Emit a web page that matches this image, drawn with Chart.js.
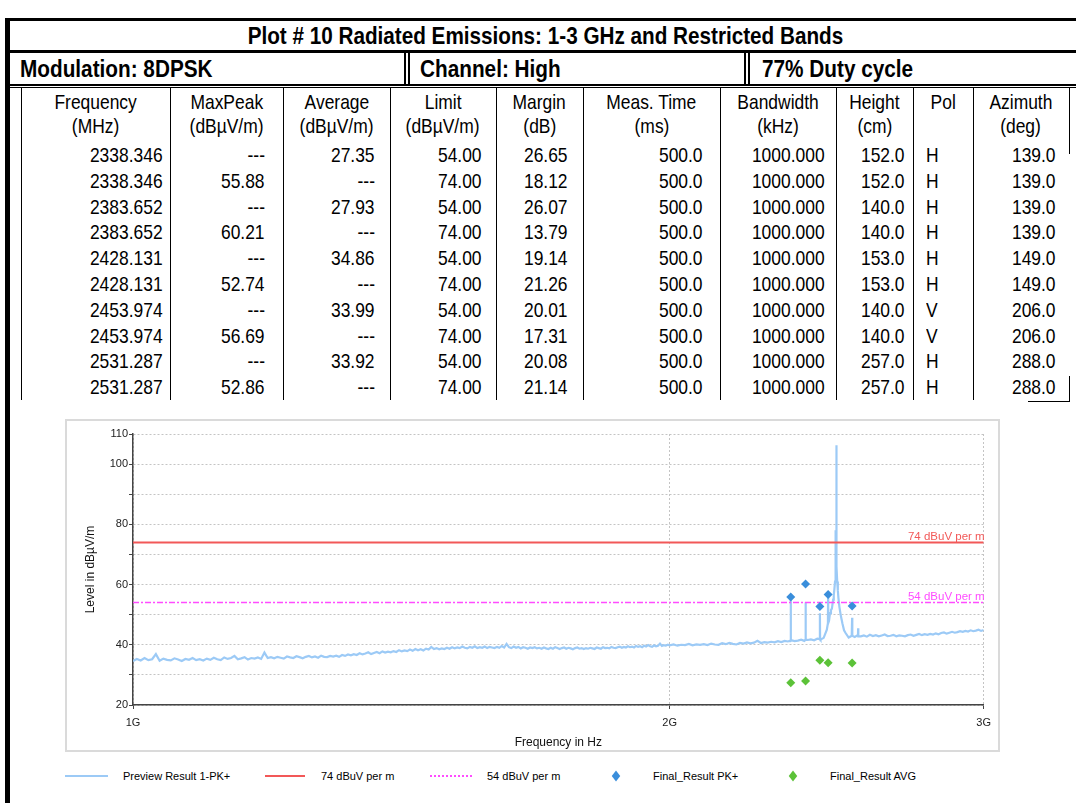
<!DOCTYPE html>
<html>
<head>
<meta charset="utf-8">
<script src="https://cdn.jsdelivr.net/npm/chart.js@4.4.1/dist/chart.umd.min.js"></script>
<style>
  body { margin:0; background:#fff; }
  #page { position:relative; width:1076px; height:803px; overflow:hidden; font-family:"Liberation Sans", Arial, sans-serif; color:#000; }
  .ln { position:absolute; background:#000; }
  .cell { position:absolute; white-space:nowrap; box-sizing:border-box; }
  .cell span { display:inline-block; }
  #plotBox { position:absolute; left:65px; top:419px; width:931px; height:329px; border:2px solid #dadada; }
  .lg { position:absolute; font-size:11px; line-height:14px; white-space:nowrap; }
</style>
</head>
<body>
<div id="page">
  <div id="plotBox"><canvas id="line-chart" width="931" height="329"></canvas></div>
</div>
<script>
// ---- result table ----
var finalFreqs = [2338.346, 2338.346, 2383.652, 2383.652, 2428.131, 2428.131, 2453.974, 2453.974, 2531.287, 2531.287];
var maxPeak    = [null, 55.88, null, 60.21, null, 52.74, null, 56.69, null, 52.86];
var average    = [27.35, null, 27.93, null, 34.86, null, 33.99, null, 33.92, null];
var limitVals  = [54, 74, 54, 74, 54, 74, 54, 74, 54, 74];
var margins    = [26.65, 18.12, 26.07, 13.79, 19.14, 21.26, 20.01, 17.31, 20.08, 21.14];
var measTime   = [500, 500, 500, 500, 500, 500, 500, 500, 500, 500];
var bandwidths = [1000, 1000, 1000, 1000, 1000, 1000, 1000, 1000, 1000, 1000];
var heights    = [152, 152, 140, 140, 153, 153, 140, 140, 257, 257];
var pols       = ['H', 'H', 'H', 'H', 'H', 'H', 'V', 'V', 'H', 'H'];
var azimuths   = [139, 139, 139, 139, 149, 149, 206, 206, 288, 288];

var headTop    = ['Frequency', 'MaxPeak', 'Average', 'Limit', 'Margin', 'Meas. Time', 'Bandwidth', 'Height', 'Pol', 'Azimuth'];
var headBottom = ['(MHz)', '(dBµV/m)', '(dBµV/m)', '(dBµV/m)', '(dB)', '(ms)', '(kHz)', '(cm)', '', '(deg)'];

// ---- spectrum sweep (MHz / dBµV/m) ----
var lowBandStart = 1000, lowBandStep = 5;
var lowBandLevels = [
  34.6, 35.3, 34.8, 35.6, 34.9, 35.2, 36.9, 34.7, 35.4, 35.0, 34.8, 35.5, 35.1, 34.6, 35.3, 35.0, 35.6, 34.9, 35.2, 34.8,
  35.4, 35.0, 35.7, 35.2, 34.9, 35.8, 35.3, 35.6, 36.3, 35.2, 35.5, 35.9, 35.1, 35.6, 35.4, 35.8, 35.3, 37.4, 35.6, 35.9,
  35.5, 36.0, 35.7, 35.4, 36.1, 35.8, 35.6, 36.2, 35.9, 35.5, 36.0, 36.3, 35.8, 36.1, 35.7, 36.4, 36.0, 35.9, 36.3, 36.1,
  36.4, 36.0, 36.6, 36.3, 36.8, 36.5, 36.9, 36.6, 37.2, 36.8, 37.1, 37.5, 36.9, 37.3, 37.6, 37.2, 37.8, 37.4, 37.7, 37.5,
  37.9, 37.6, 38.2, 37.8, 38.1, 37.9, 38.4, 38.0, 38.6, 38.2, 38.5, 38.1, 38.7, 38.4, 39.3, 38.6, 38.9, 38.5, 38.8, 38.6,
  39.0, 38.7, 39.2, 38.8, 39.1, 38.9, 39.4, 39.0, 38.8, 39.3, 39.0, 39.5, 38.9, 39.2, 39.0, 39.4, 38.9, 39.3, 39.1, 38.9,
  39.3, 39.0, 39.6, 39.1, 40.3, 39.2, 38.9, 39.4, 39.0, 39.3, 38.8, 39.2, 39.0, 38.7, 39.1, 38.9, 39.2, 38.8, 39.0, 38.7,
  39.1, 38.8, 38.6, 39.0, 38.7, 39.2, 38.9, 38.6, 38.9, 39.1, 38.7, 39.0, 38.8, 38.5, 38.9, 39.1, 38.7, 38.9, 38.6, 38.9,
  38.7, 39.0, 38.8, 38.6, 39.1, 38.9, 38.7, 39.2, 38.9, 39.0, 38.8, 39.3, 39.0, 38.9, 39.2, 39.4, 39.0, 39.3, 39.1, 39.5,
  39.2, 39.4, 39.1, 39.6, 39.3, 39.5, 39.2, 39.7, 39.4, 39.9, 39.5, 39.3, 39.8, 39.5, 39.7, 40.4, 39.6, 39.9, 39.7, 40.0
];
var highBandStart = 2000, highBandStep = 10;
var highBandLevels = [
  39.8, 40.1, 39.7, 40.0, 39.9, 40.3, 39.8, 40.1, 40.0, 40.2,
  39.9, 40.4, 40.1, 40.0, 40.5, 40.2, 40.6, 40.3, 40.1, 40.6,
  40.4, 40.8, 40.5, 40.7, 41.3, 40.6, 40.9, 40.7, 41.0, 40.8,
  41.2, 40.9, 41.3, 41.1, 41.5, 41.2, 41.4, 41.7, 41.3, 41.6,
  41.8, 41.5, 42.0, 41.7, 42.3, 45.0, 50.5, 55.0, 106.3, 52.6,
  47.0, 43.9, 42.4, 43.0, 42.6, 43.2, 42.8, 43.1, 42.7, 43.3,
  42.9, 43.2, 42.8, 43.1, 43.4, 42.9, 43.0, 43.3, 42.8, 43.1,
  43.0, 42.8, 43.2, 43.4, 43.0, 43.3, 43.6, 43.2, 43.5, 43.3,
  43.6, 43.4, 43.8, 43.5, 43.9, 44.1, 43.7, 44.0, 44.3, 44.0,
  44.2, 44.5, 44.3, 44.6, 44.4, 44.8, 44.5, 44.7, 45.0, 44.6,
  44.9
];
// extra points around the carrier at 2480 MHz
var carrierFreqs  = [2454, 2457, 2463, 2466, 2472, 2474, 2476, 2477, 2478, 2478.6, 2479.2, 2479.6, 2480.4, 2480.8, 2481.4, 2482, 2483, 2485, 2487, 2494, 2497, 2505];
var carrierLevels = [47.5, 48.0, 51.5, 52.0, 56.5, 58.5, 61.0, 65.0, 71.0, 78.0, 74.0, 85.0, 92.0, 72.0, 76.0, 66.0, 61.0, 58.0, 55.5, 50.0, 48.5, 44.8];
// narrow spurs: top level and the floor right beside them
var spurFreqs      = [2338.346, 2383.652, 2428.131, 2453.974, 2531.287, 2551];
var spurLevels     = [55.8, 54.0, 50.5, 57.0, 49.0, 45.5];
var spurBaseLevels = [41.4, 41.6, 41.9, 47.2, 43.0, 42.8];

var limitLines  = [74, 54];
var limitNames  = ['74 dBuV per m', '54 dBuV per m'];
var limitColors = ['#f25858', '#ff4cff'];

var yLabelValues = [20, 40, 60, 80, 100, 110];
var xTickValues  = [1000, 2000, 3000];
var xTickLabels  = ['1G', '2G', '3G'];

var traceColor = '#9ccaf6';
var pkColor = '#3a8edb';
var avgColor = '#5cc238';

var page = document.getElementById('page');

function line(x, y, w, h) {
  var d = document.createElement('div');
  d.className = 'ln';
  d.style.left = x + 'px'; d.style.top = y + 'px';
  d.style.width = w + 'px'; d.style.height = h + 'px';
  page.appendChild(d);
}

function putText(txt, left, width, y, height, align, pad, font, sx) {
  var d = document.createElement('div');
  d.className = 'cell';
  d.style.left = left + 'px'; d.style.width = width + 'px';
  d.style.top = y + 'px'; d.style.height = height + 'px';
  d.style.textAlign = align;
  d.style.font = font;
  d.style.lineHeight = height + 'px';
  if (align == 'right') d.style.paddingRight = pad + 'px';
  if (align == 'left') d.style.paddingLeft = pad + 'px';
  var s = document.createElement('span');
  s.textContent = txt;
  s.style.transform = 'scaleX(' + sx + ')';
  s.style.transformOrigin = (align == 'right' ? '100%' : (align == 'left' ? '0%' : '50%')) + ' 50%';
  d.appendChild(s);
  page.appendChild(d);
}

// frame of the report
line(5, 18, 1071, 3);
line(5, 18, 5, 785);
line(5, 50, 1071, 3);
line(404, 53, 1.5, 33);
line(408, 53, 1.5, 33);
line(744, 53, 1.5, 33);
line(748, 53, 1.5, 33);
line(10, 84, 1066, 2);
line(10, 87, 1066, 1);

var boldFont = 'bold 24px "Liberation Sans", Arial, sans-serif';
var cellFont = '21px "Liberation Sans", Arial, sans-serif';
putText('Plot # 10 Radiated Emissions: 1-3 GHz and Restricted Bands', 14, 1062, 21, 29, 'center', 0, boldFont, 0.862);
putText('Modulation: 8DPSK', 20, 380, 53, 32, 'left', 0, boldFont, 0.865);
putText('Channel: High', 420, 320, 53, 32, 'left', 0, boldFont, 0.865);
putText('77% Duty cycle', 762, 310, 53, 32, 'left', 0, boldFont, 0.865);

var colEdges = [21, 170, 283, 390, 496, 583, 720, 836, 913, 973, 1069];
var colPad   = [7, 18, 15, 14, 15, 17, 11, 8, 13, 13];

for (var c = 0; c < colEdges.length - 1; c++) {
  line(colEdges[c], 88, 1, 312);
}
line(1069, 88, 1, 66);
line(1069, 376, 1, 26);
line(1028, 401, 42, 1);

for (var c = 0; c < headTop.length; c++) {
  var L = colEdges[c], W = colEdges[c + 1] - colEdges[c];
  putText(headTop[c], L, W, 90, 24, 'center', 0, cellFont, 0.83);
  if (headBottom[c]) putText(headBottom[c], L, W, 114, 24, 'center', 0, cellFont, 0.83);
}

function fmt(v, d) { return v == null ? '---' : v.toFixed(d); }

for (var r = 0; r < finalFreqs.length; r++) {
  var vals = [
    fmt(finalFreqs[r], 3), fmt(maxPeak[r], 2), fmt(average[r], 2), fmt(limitVals[r], 2), fmt(margins[r], 2),
    fmt(measTime[r], 1), fmt(bandwidths[r], 3), fmt(heights[r], 1), pols[r], fmt(azimuths[r], 1)
  ];
  var rowTop = 142 + r * 25.8;
  for (var c = 0; c < vals.length; c++) {
    var L = colEdges[c], W = colEdges[c + 1] - colEdges[c];
    putText(vals[c], L, W, rowTop, 26, c == 8 ? 'left' : 'right', colPad[c], cellFont, 0.83);
  }
}

// ---- chart ----
var trace = [];
lowBandLevels.forEach(function (v, i) { trace.push({x: lowBandStart + i * lowBandStep, y: v}); });
highBandLevels.forEach(function (v, i) { trace.push({x: highBandStart + i * highBandStep, y: v}); });
carrierFreqs.forEach(function (f, i) { trace.push({x: f, y: carrierLevels[i]}); });
spurFreqs.forEach(function (f, i) {
  trace.push({x: f - 0.6, y: spurBaseLevels[i]});
  trace.push({x: f, y: spurLevels[i]});
  trace.push({x: f + 0.6, y: spurBaseLevels[i]});
});
trace.sort(function (a, b) { return a.x - b.x; });

var pkPoints = [], avgPoints = [];
for (var r = 0; r < finalFreqs.length; r++) {
  if (maxPeak[r] != null) pkPoints.push({x: finalFreqs[r], y: maxPeak[r]});
  if (average[r] != null) avgPoints.push({x: finalFreqs[r], y: average[r]});
}

var limitLabelPlugin = {
  id: 'limitLabels',
  afterDraw: function (chart) {
    var ctx = chart.ctx, ys = chart.scales.y, area = chart.chartArea;
    ctx.save();
    ctx.font = '11.5px "Liberation Sans", Arial, sans-serif';
    ctx.textAlign = 'right';
    ctx.textBaseline = 'alphabetic';
    for (var i = 0; i < limitLines.length; i++) {
      ctx.fillStyle = limitColors[i];
      ctx.fillText(limitNames[i], area.right + 1, ys.getPixelForValue(limitLines[i]) - 2.5);
    }
    ctx.restore();
  }
};

Chart.defaults.font.family = '"Liberation Sans", Arial, sans-serif';

new Chart(document.getElementById('line-chart'), {
  type: 'scatter',
  data: {
    datasets: [
      { label: 'Preview Result 1-PK+', data: trace, showLine: true, borderColor: traceColor, borderWidth: 2.2, pointRadius: 0, order: 3 },
      { label: limitNames[0], data: [{x: 1000, y: limitLines[0]}, {x: 3000, y: limitLines[0]}], showLine: true, borderColor: limitColors[0], borderWidth: 2, pointRadius: 0, order: 2 },
      { label: limitNames[1], data: [{x: 1000, y: limitLines[1]}, {x: 3000, y: limitLines[1]}], showLine: true, borderColor: limitColors[1], borderWidth: 1.5, borderDash: [6, 2, 2, 2], pointRadius: 0, order: 2 },
      { label: 'Final_Result PK+', data: pkPoints, pointStyle: 'rectRot', pointRadius: 4.5, backgroundColor: pkColor, borderColor: pkColor, borderWidth: 0, order: 1 },
      { label: 'Final_Result AVG', data: avgPoints, pointStyle: 'rectRot', pointRadius: 4.5, backgroundColor: avgColor, borderColor: avgColor, borderWidth: 0, order: 1 }
    ]
  },
  options: {
    responsive: false,
    animation: false,
    layout: { padding: { top: 13, right: 14, left: 0, bottom: 0 } },
    plugins: { legend: { display: false }, tooltip: { enabled: false } },
    scales: {
      x: {
        type: 'logarithmic', min: 1000, max: 3000,
        afterBuildTicks: function (s) { s.ticks = xTickValues.map(function (v) { return {value: v}; }); },
        afterFit: function (s) { s.height = 45; },
        ticks: {
          autoSkip: false, maxRotation: 0, padding: 7, color: '#222', font: {size: 11},
          callback: function (v) { var i = xTickValues.indexOf(v); return i < 0 ? '' : xTickLabels[i]; }
        },
        grid: { color: '#c4c4c4', tickColor: '#444', tickLength: 4 },
        border: { color: '#444', width: 1.5, dash: [2, 2] },
        title: { display: true, text: 'Frequency in Hz', color: '#111', font: {size: 12, lineHeight: 1}, padding: {top: 0, bottom: 1} }
      },
      y: {
        min: 20, max: 110,
        afterFit: function (s) { s.width = 66; },
        ticks: {
          stepSize: 10, autoSkip: false, padding: 1, color: '#222', font: {size: 11},
          callback: function (v) { return yLabelValues.indexOf(v) < 0 ? '' : String(v); }
        },
        grid: { color: '#c4c4c4', tickColor: '#444', tickLength: 4 },
        border: { color: '#444', width: 1.5, dash: [2, 2] },
        title: { display: true, text: 'Level in dBµV/m', color: '#111', font: {size: 12, lineHeight: 1}, padding: {top: 18} }
      }
    }
  },
  plugins: [limitLabelPlugin]
});

// ---- legend under the plot box ----
function legendLine(x, w, color, dashed, thick) {
  var d = document.createElement('div');
  d.className = 'lg';
  d.style.left = x + 'px'; d.style.top = (776 - thick / 2) + 'px';
  d.style.width = w + 'px'; d.style.height = '0px';
  d.style.borderTop = thick + 'px ' + (dashed ? 'dotted ' : 'solid ') + color;
  page.appendChild(d);
}
function legendDiamond(cx, color) {
  var d = document.createElement('div');
  d.className = 'lg';
  d.style.left = (cx - 3) + 'px'; d.style.top = '773px';
  d.style.width = '6px'; d.style.height = '6px';
  d.style.background = color;
  d.style.transform = 'scaleY(1.3) rotate(45deg)';
  page.appendChild(d);
}
function legendText(x, txt) {
  var d = document.createElement('div');
  d.className = 'lg';
  d.style.left = x + 'px'; d.style.top = '769px';
  d.textContent = txt;
  page.appendChild(d);
}
legendLine(65, 43, traceColor, false, 2);
legendText(123, 'Preview Result 1-PK+');
legendLine(265, 40, limitColors[0], false, 2.5);
legendText(321, limitNames[0]);
legendLine(430, 42, limitColors[1], true, 2);
legendText(487, limitNames[1]);
legendDiamond(616, pkColor);
legendText(653, 'Final_Result PK+');
legendDiamond(793, avgColor);
legendText(830, 'Final_Result AVG');
</script>
</body>
</html>
